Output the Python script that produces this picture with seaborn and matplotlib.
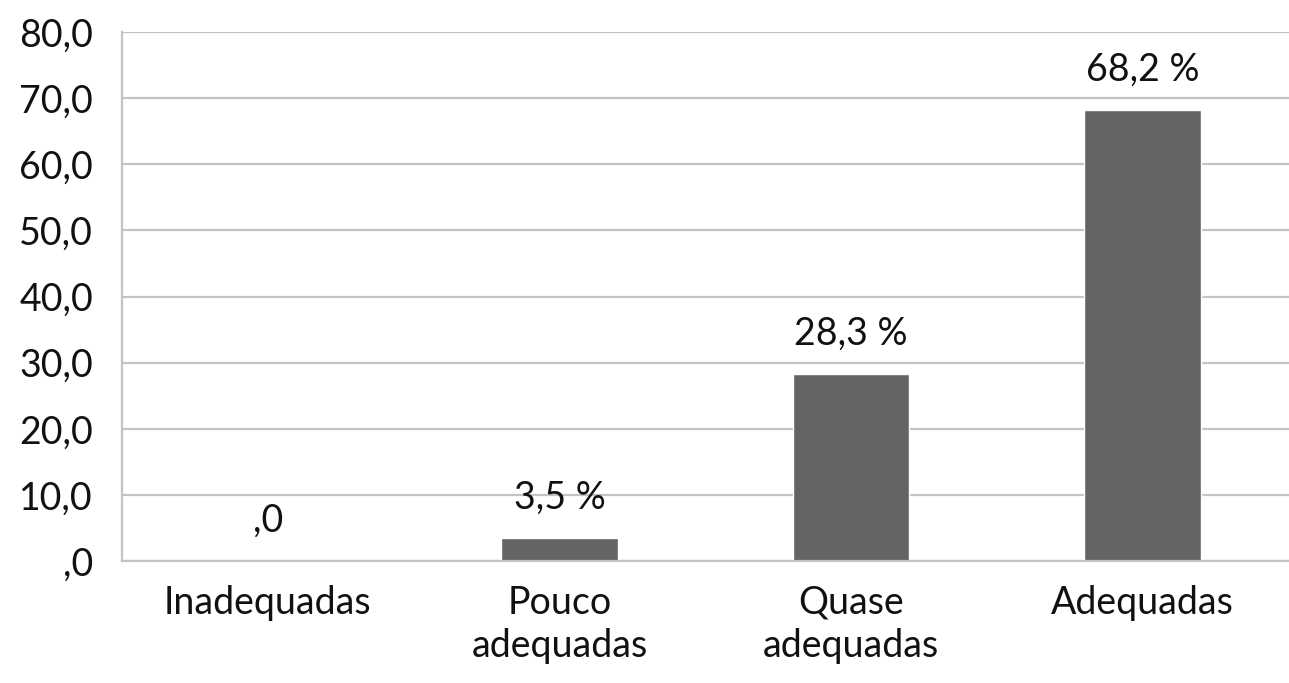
import numpy as np
import pandas as pd
import seaborn as sns
import matplotlib.pyplot as plt

categorias = ["Inadequadas", "Pouco\nadequadas", "Quase\nadequadas", "Adequadas"]
percentuais = [0.0, 3.5, 28.3, 68.2]
rotulos = [",0", "3,5 %", "28,3 %", "68,2 %"]
yticks = [0, 10, 20, 30, 40, 50, 60, 70, 80]
ytick_labels = [",0", "10,0", "20,0", "30,0", "40,0", "50,0", "60,0", "70,0", "80,0"]

df = pd.DataFrame({"categoria": categorias, "percentual": percentuais})

sns.set_style("white")
plt.rcParams["font.family"] = ["Lato", "DejaVu Sans"]

fig = plt.figure(figsize=(12.89, 6.83), dpi=100)
ax = fig.add_axes([0.0947, 0.1786, 0.905, 0.7745])

sns.barplot(data=df, x="categoria", y="percentual", color="#646464",
            width=0.4, saturation=1, ax=ax)

ax.set_ylim(0, 80)
ax.set_yticks(yticks)
ax.set_yticklabels(ytick_labels)
ax.yaxis.grid(True, color="#c4c4c4", linewidth=1.6)
ax.set_axisbelow(True)
ax.set_xlabel("")
ax.set_ylabel("")
ax.tick_params(axis="y", length=0, pad=21, labelsize=27, labelcolor="#111111")
ax.tick_params(axis="x", length=0, pad=17, labelsize=27, labelcolor="#111111")
for lbl in ax.get_xticklabels():
    lbl.set_linespacing(1.25)

for side in ["top", "right"]:
    ax.spines[side].set_visible(False)
for side in ["left", "bottom"]:
    ax.spines[side].set_color("#c4c4c4")
    ax.spines[side].set_linewidth(1.6)

for i, (v, txt) in enumerate(zip(percentuais, rotulos)):
    ax.annotate(txt, (i, v), xytext=(0, 29), textcoords="offset points",
                ha="center", va="center", fontsize=27, color="#111111")

plt.savefig("out.png", dpi=100)
